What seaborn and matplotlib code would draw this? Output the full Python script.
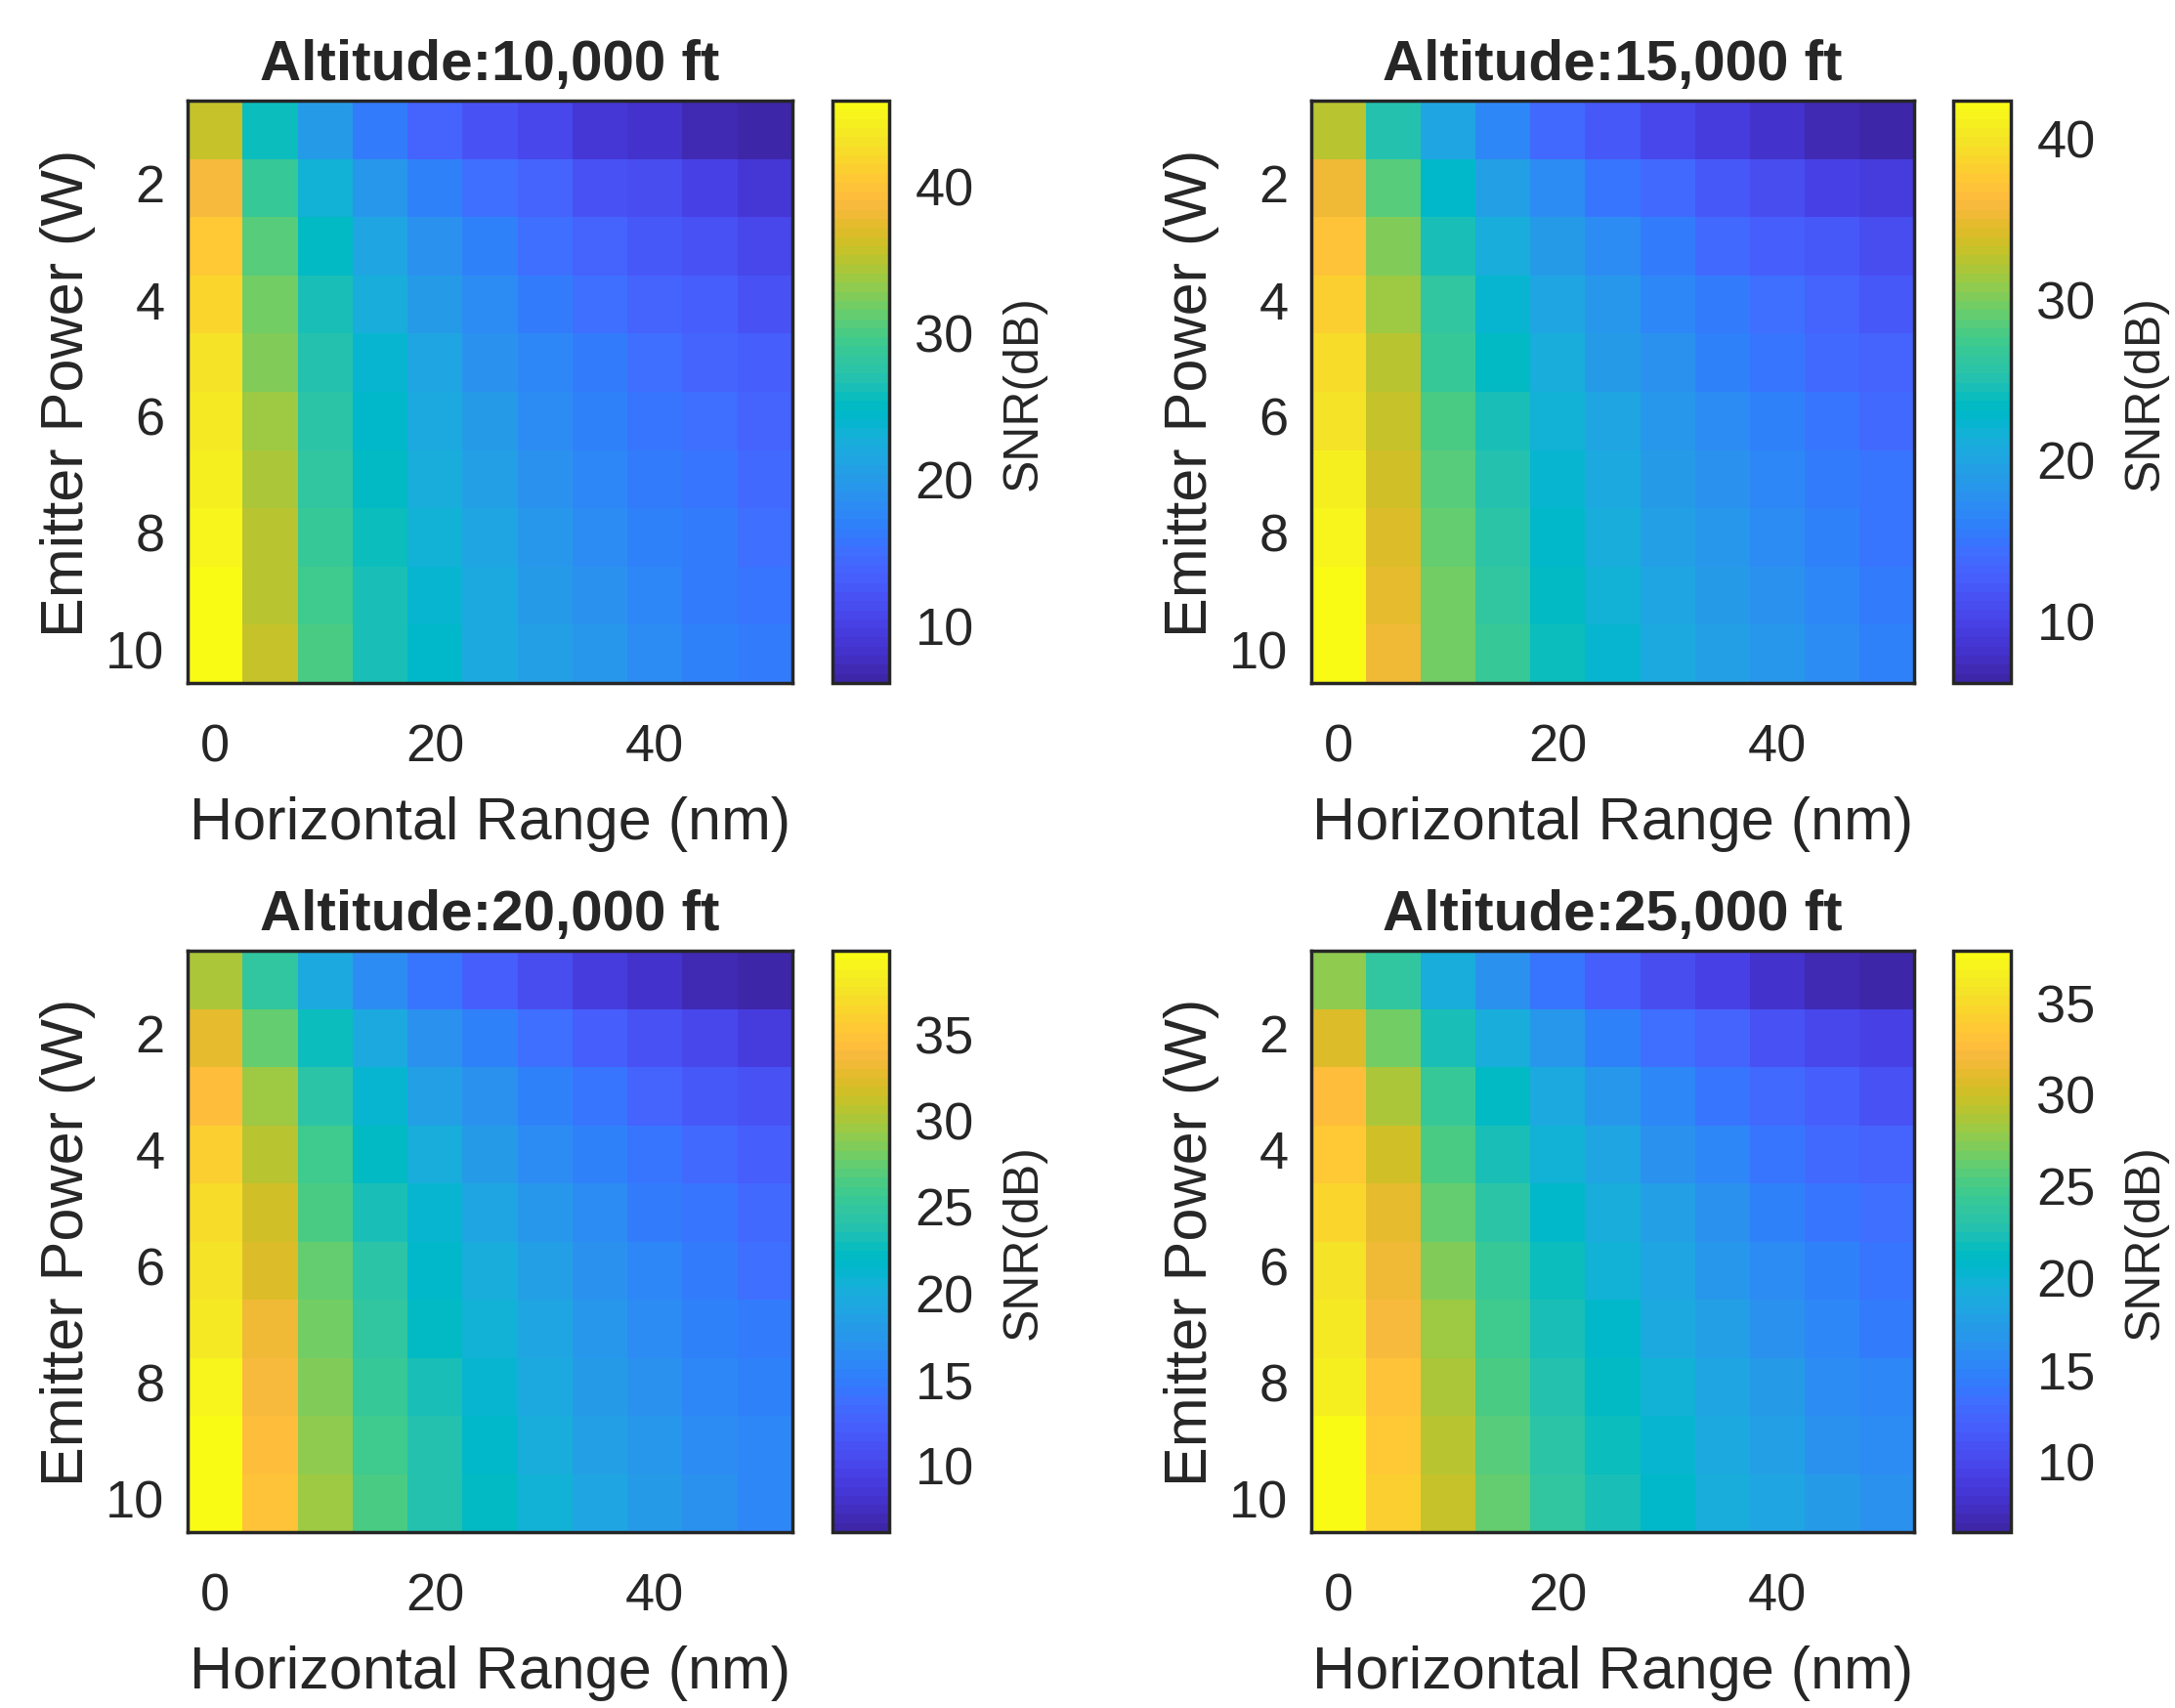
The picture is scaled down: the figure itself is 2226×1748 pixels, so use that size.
import numpy as np
import pandas as pd
import seaborn as sns
import matplotlib.pyplot as plt
from matplotlib.colors import ListedColormap

# horizontal range (nm) and emitter power (W)
ranges_nm = [0, 5, 10, 15, 20, 25, 30, 35, 40, 45, 50]
powers_w = [1, 2, 3, 4, 5, 6, 7, 8, 9, 10]
altitudes = ["10,000", "15,000", "20,000", "25,000"]

# SNR (dB), rows = power 1..10, cols = range 0..50
snr_10k = [
    [35.8, 25.7, 20.0, 16.5, 14.1, 12.1, 10.6, 9.2, 8.1, 7.0, 6.1],
    [38.8, 28.7, 23.0, 19.5, 17.1, 15.1, 13.6, 12.2, 11.1, 10.0, 9.1],
    [40.5, 30.4, 24.8, 21.3, 18.8, 16.9, 15.3, 14.0, 12.8, 11.8, 10.9],
    [41.8, 31.7, 26.0, 22.6, 20.1, 18.1, 16.6, 15.2, 14.1, 13.1, 12.1],
    [42.8, 32.7, 27.0, 23.5, 21.0, 19.1, 17.5, 16.2, 15.0, 14.0, 13.1],
    [43.6, 33.5, 27.8, 24.3, 21.8, 19.9, 18.3, 17.0, 15.8, 14.8, 13.9],
    [44.2, 34.1, 28.4, 25.0, 22.5, 20.6, 19.0, 17.7, 16.5, 15.5, 14.6],
    [44.8, 34.7, 29.0, 25.6, 23.1, 21.2, 19.6, 18.2, 17.1, 16.1, 15.2],
    [45.3, 35.2, 29.5, 26.1, 23.6, 21.7, 20.1, 18.8, 17.6, 16.6, 15.7],
    [45.8, 35.7, 30.0, 26.5, 24.1, 22.1, 20.6, 19.2, 18.1, 17.0, 16.1],
]
snr_15k = [
    [32.3, 25.2, 19.8, 16.5, 14.0, 12.1, 10.5, 9.2, 8.0, 7.0, 6.1],
    [35.3, 28.2, 22.9, 19.5, 17.0, 15.1, 13.5, 12.2, 11.1, 10.0, 9.1],
    [37.0, 29.9, 24.6, 21.2, 18.8, 16.9, 15.3, 14.0, 12.8, 11.8, 10.9],
    [38.3, 31.2, 25.9, 22.5, 20.0, 18.1, 16.6, 15.2, 14.1, 13.0, 12.1],
    [39.2, 32.2, 26.8, 23.5, 21.0, 19.1, 17.5, 16.2, 15.0, 14.0, 13.1],
    [40.0, 33.0, 27.6, 24.2, 21.8, 19.9, 18.3, 17.0, 15.8, 14.8, 13.9],
    [40.7, 33.6, 28.3, 24.9, 22.5, 20.6, 19.0, 17.7, 16.5, 15.5, 14.6],
    [41.3, 34.2, 28.9, 25.5, 23.0, 21.1, 19.6, 18.2, 17.1, 16.1, 15.1],
    [41.8, 34.7, 29.4, 26.0, 23.6, 21.6, 20.1, 18.7, 17.6, 16.6, 15.7],
    [42.3, 35.2, 29.8, 26.5, 24.0, 22.1, 20.5, 19.2, 18.0, 17.0, 16.1],
]
snr_20k = [
    [29.8, 24.6, 19.7, 16.4, 14.0, 12.1, 10.5, 9.2, 8.0, 7.0, 6.1],
    [32.8, 27.6, 22.7, 19.4, 17.0, 15.1, 13.5, 12.2, 11.0, 10.0, 9.1],
    [34.5, 29.3, 24.4, 21.1, 18.7, 16.8, 15.3, 14.0, 12.8, 11.8, 10.9],
    [35.8, 30.6, 25.7, 22.4, 20.0, 18.1, 16.5, 15.2, 14.1, 13.0, 12.1],
    [36.7, 31.6, 26.6, 23.4, 21.0, 19.1, 17.5, 16.2, 15.0, 14.0, 13.1],
    [37.5, 32.3, 27.4, 24.2, 21.7, 19.9, 18.3, 17.0, 15.8, 14.8, 13.9],
    [38.2, 33.0, 28.1, 24.8, 22.4, 20.5, 19.0, 17.6, 16.5, 15.5, 14.6],
    [38.8, 33.6, 28.7, 25.4, 23.0, 21.1, 19.5, 18.2, 17.1, 16.0, 15.1],
    [39.3, 34.1, 29.2, 25.9, 23.5, 21.6, 20.1, 18.7, 17.6, 16.6, 15.6],
    [39.8, 34.6, 29.7, 26.4, 24.0, 22.1, 20.5, 19.2, 18.0, 17.0, 16.1],
]
snr_25k = [
    [27.8, 23.9, 19.4, 16.3, 13.9, 12.0, 10.5, 9.2, 8.0, 7.0, 6.1],
    [30.8, 26.9, 22.4, 19.3, 16.9, 15.0, 13.5, 12.2, 11.0, 10.0, 9.1],
    [32.6, 28.7, 24.2, 21.0, 18.7, 16.8, 15.3, 13.9, 12.8, 11.8, 10.9],
    [33.8, 29.9, 25.4, 22.3, 19.9, 18.1, 16.5, 15.2, 14.0, 13.0, 12.1],
    [34.8, 30.9, 26.4, 23.3, 20.9, 19.0, 17.5, 16.2, 15.0, 14.0, 13.1],
    [35.6, 31.7, 27.2, 24.0, 21.7, 19.8, 18.3, 16.9, 15.8, 14.8, 13.9],
    [36.3, 32.3, 27.9, 24.7, 22.4, 20.5, 18.9, 17.6, 16.5, 15.5, 14.5],
    [36.8, 32.9, 28.5, 25.3, 22.9, 21.1, 19.5, 18.2, 17.0, 16.0, 15.1],
    [37.4, 33.4, 29.0, 25.8, 23.4, 21.6, 20.0, 18.7, 17.6, 16.5, 15.6],
    [37.8, 33.9, 29.4, 26.3, 23.9, 22.0, 20.5, 19.2, 18.0, 17.0, 16.1],
]
cbar_ticks = [
    [10, 20, 30, 40],
    [10, 20, 30, 40],
    [10, 15, 20, 25, 30, 35],
    [10, 15, 20, 25, 30, 35],
]

# MATLAB parula (64 entries)
parula = ListedColormap([
    [0.2422, 0.1504, 0.6603], [0.2504, 0.1650, 0.7076], [0.2578, 0.1818, 0.7511], [0.2647, 0.1978, 0.7952],
    [0.2706, 0.2147, 0.8364], [0.2751, 0.2342, 0.8710], [0.2783, 0.2559, 0.8991], [0.2803, 0.2782, 0.9221],
    [0.2813, 0.3006, 0.9414], [0.2810, 0.3228, 0.9579], [0.2795, 0.3447, 0.9717], [0.2760, 0.3667, 0.9829],
    [0.2699, 0.3892, 0.9906], [0.2602, 0.4123, 0.9952], [0.2440, 0.4358, 0.9988], [0.2206, 0.4603, 0.9973],
    [0.1963, 0.4847, 0.9892], [0.1834, 0.5074, 0.9798], [0.1786, 0.5289, 0.9682], [0.1764, 0.5499, 0.9520],
    [0.1687, 0.5703, 0.9359], [0.1540, 0.5902, 0.9218], [0.1460, 0.6091, 0.9079], [0.1380, 0.6276, 0.8973],
    [0.1248, 0.6459, 0.8883], [0.1113, 0.6635, 0.8763], [0.0952, 0.6798, 0.8598], [0.0689, 0.6948, 0.8394],
    [0.0297, 0.7082, 0.8163], [0.0036, 0.7203, 0.7917], [0.0067, 0.7312, 0.7660], [0.0433, 0.7411, 0.7394],
    [0.0964, 0.7500, 0.7120], [0.1408, 0.7584, 0.6842], [0.1717, 0.7670, 0.6554], [0.1938, 0.7758, 0.6251],
    [0.2161, 0.7843, 0.5923], [0.2470, 0.7918, 0.5567], [0.2906, 0.7973, 0.5188], [0.3406, 0.8008, 0.4789],
    [0.3909, 0.8029, 0.4354], [0.4456, 0.8024, 0.3909], [0.5044, 0.7993, 0.3480], [0.5616, 0.7942, 0.3045],
    [0.6174, 0.7876, 0.2612], [0.6720, 0.7793, 0.2227], [0.7242, 0.7698, 0.1910], [0.7738, 0.7598, 0.1646],
    [0.8203, 0.7498, 0.1535], [0.8634, 0.7406, 0.1596], [0.9035, 0.7330, 0.1774], [0.9393, 0.7288, 0.2100],
    [0.9728, 0.7298, 0.2394], [0.9956, 0.7434, 0.2371], [0.9970, 0.7659, 0.2199], [0.9952, 0.7893, 0.2028],
    [0.9892, 0.8136, 0.1885], [0.9786, 0.8386, 0.1766], [0.9676, 0.8639, 0.1643], [0.9610, 0.8890, 0.1537],
    [0.9597, 0.9135, 0.1423], [0.9628, 0.9373, 0.1265], [0.9691, 0.9606, 0.1064], [0.9769, 0.9839, 0.0805],
], name="parula")

sns.set_style("white")
plt.rcParams["font.family"] = ["Liberation Sans", "DejaVu Sans"]

dark = (0.15, 0.15, 0.15)
W, H = 2226, 1749
fig = plt.figure(figsize=(W / 100, H / 100), dpi=100)

# pixel boxes (left, right) and (top, bottom) for axes and colorbars
cols = [((192, 811), (852, 910)), ((1342, 1959), (1999, 2058))]
rows = [(104, 700), (974, 1569)]
datasets = [snr_10k, snr_15k, snr_20k, snr_25k]


def box(x0, x1, y0, y1):
    return [x0 / W, 1 - y1 / H, (x1 - x0) / W, (y1 - y0) / H]


for i, (alt, vals) in enumerate(zip(altitudes, datasets)):
    (ax_x, cb_x) = cols[i % 2]
    (y0, y1) = rows[i // 2]
    ax = fig.add_axes(box(ax_x[0], ax_x[1], y0, y1))
    cax = fig.add_axes(box(cb_x[0], cb_x[1], y0, y1))

    df = pd.DataFrame(vals, index=powers_w, columns=ranges_nm)
    sns.heatmap(df, ax=ax, cmap=parula, cbar_ax=cax, square=False)

    ax.set_xticks([ranges_nm.index(v) + 0.5 for v in (0, 20, 40)])
    ax.set_xticklabels(["0", "20", "40"], rotation=0)
    ax.set_yticks([powers_w.index(v) + 0.5 for v in (2, 4, 6, 8, 10)])
    ax.set_yticklabels(["2", "4", "6", "8", "10"], rotation=0)
    ax.tick_params(direction="in", top=True, right=True, length=7, width=1.5,
                   color=dark, labelsize=39, labelcolor=dark)
    ax.tick_params(axis="x", pad=29)
    ax.tick_params(axis="y", pad=17)
    for s in ax.spines.values():
        s.set_visible(True)
        s.set_color(dark)
        s.set_linewidth(2.5)

    ax.set_xlabel("Horizontal Range (nm)", fontsize=44, color=dark, labelpad=18)
    ax.set_ylabel("Emitter Power (W)", fontsize=44, color=dark, labelpad=7)
    ax.set_title(f"Altitude:{alt} ft", fontsize=42, fontweight="bold", pad=16)

    cbar = ax.collections[0].colorbar
    cbar.set_ticks(cbar_ticks[i])
    cbar.set_ticklabels([str(t) for t in cbar_ticks[i]])
    cax.tick_params(direction="in", right=True, left=False, length=7, width=1.5,
                    color=dark, labelsize=39, labelcolor=dark, pad=19)
    cbar.outline.set_visible(True)
    cbar.outline.set_edgecolor(dark)
    cbar.outline.set_linewidth(2.5)
    cbar.set_label("SNR(dB)", fontsize=36, color=dark, labelpad=20)

fig.savefig("out.png", dpi=100)
